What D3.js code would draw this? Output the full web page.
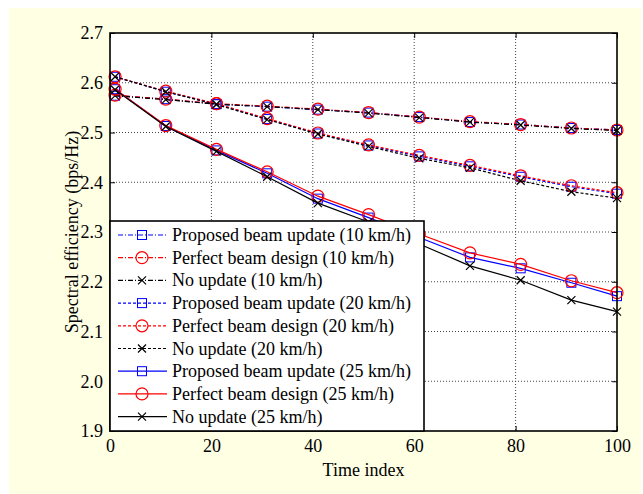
<!DOCTYPE html>
<html>
<head>
<meta charset="utf-8">
<script src="https://cdn.jsdelivr.net/npm/d3@7"></script>
<style>
  body { margin: 0; background: #fff; }
  text { font-family: "Liberation Serif", "Times New Roman", Times, "DejaVu Serif", serif; }
</style>
</head>
<body>
<div id="chart"></div>
<script>
// time index samples
var timeIdx = [1, 11, 21, 31, 41, 51, 61, 71, 81, 91, 100];

// 10 km/h
var prop10 = [2.574, 2.567, 2.557, 2.552, 2.546, 2.540, 2.531, 2.521, 2.516, 2.509, 2.505];
var perf10 = [2.575, 2.567, 2.558, 2.553, 2.547, 2.540, 2.531, 2.522, 2.516, 2.509, 2.505];
var noup10 = [2.574, 2.566, 2.557, 2.552, 2.546, 2.539, 2.530, 2.521, 2.515, 2.508, 2.504];
// 20 km/h
var prop20 = [2.612, 2.582, 2.557, 2.527, 2.498, 2.474, 2.452, 2.432, 2.411, 2.391, 2.377];
var perf20 = [2.612, 2.583, 2.558, 2.528, 2.499, 2.475, 2.454, 2.434, 2.413, 2.393, 2.379];
var noup20 = [2.612, 2.582, 2.556, 2.526, 2.497, 2.472, 2.448, 2.429, 2.403, 2.381, 2.368];
// 25 km/h
var prop25 = [2.587, 2.513, 2.464, 2.418, 2.367, 2.329, 2.289, 2.249, 2.227, 2.198, 2.171];
var perf25 = [2.587, 2.514, 2.466, 2.421, 2.372, 2.335, 2.296, 2.258, 2.235, 2.202, 2.178];
var noup25 = [2.586, 2.512, 2.462, 2.411, 2.358, 2.320, 2.276, 2.232, 2.203, 2.163, 2.140];

var xTicks = [0, 20, 40, 60, 80, 100];
var yTicks = [1.9, 2.0, 2.1, 2.2, 2.3, 2.4, 2.5, 2.6, 2.7];

var series = [
  {name: "Proposed beam update (10 km/h)", values: prop10, color: "#0000ff", dash: "5,2,1,2", marker: "square"},
  {name: "Perfect beam design (10 km/h)",  values: perf10, color: "#ff0000", dash: "5,2,1,2", marker: "circle"},
  {name: "No update (10 km/h)",            values: noup10, color: "#000000", dash: "5,2,1,2", marker: "x"},
  {name: "Proposed beam update (20 km/h)", values: prop20, color: "#0000ff", dash: "3,2", marker: "square"},
  {name: "Perfect beam design (20 km/h)",  values: perf20, color: "#ff0000", dash: "3,2", marker: "circle"},
  {name: "No update (20 km/h)",            values: noup20, color: "#000000", dash: "3,2", marker: "x"},
  {name: "Proposed beam update (25 km/h)", values: prop25, color: "#0000ff", dash: null, marker: "square"},
  {name: "Perfect beam design (25 km/h)",  values: perf25, color: "#ff0000", dash: null, marker: "circle"},
  {name: "No update (25 km/h)",            values: noup25, color: "#000000", dash: null, marker: "x"}
];

var FONT = "'Liberation Serif', 'Times New Roman', Times, 'DejaVu Serif', serif";

var W = 643, H = 494;
var margin = {top: 33, right: 26, bottom: 63, left: 110},
    width = W - margin.left - margin.right,
    height = H - margin.top - margin.bottom;

var svg = d3.select("#chart").append("svg")
    .attr("width", W)
    .attr("height", H);

// cream figure background
svg.append("rect")
    .attr("x", 9).attr("y", 8)
    .attr("width", 632).attr("height", 486)
    .attr("fill", "#ffffe4");

var g = svg.append("g")
    .attr("transform", "translate(" + margin.left + "," + margin.top + ")");

var x = d3.scaleLinear().domain([0, 100]).range([0, width]);
var y = d3.scaleLinear().domain([1.9, 2.7]).range([height, 0]);

g.append("rect")
    .attr("width", width).attr("height", height)
    .attr("fill", "#fff");

// dotted grid
g.append("g").selectAll("line")
    .data(xTicks.slice(1, -1))
    .enter().append("line")
    .attr("x1", function(d) { return x(d); }).attr("x2", function(d) { return x(d); })
    .attr("y1", 0).attr("y2", height)
    .attr("stroke", "#444").attr("stroke-width", 1).attr("stroke-dasharray", "1,2");

g.append("g").selectAll("line")
    .data(yTicks.slice(1, -1))
    .enter().append("line")
    .attr("y1", function(d) { return y(d); }).attr("y2", function(d) { return y(d); })
    .attr("x1", 0).attr("x2", width)
    .attr("stroke", "#444").attr("stroke-width", 1).attr("stroke-dasharray", "1,2");

// axes, ticks inward on all sides
var axes = [
  {ax: d3.axisBottom(x).tickValues(xTicks).tickFormat(d3.format("d")), tr: "translate(0," + height + ")", pad: 8},
  {ax: d3.axisTop(x).tickValues(xTicks).tickFormat(""), tr: "translate(0,0)", pad: 8},
  {ax: d3.axisLeft(y).tickValues(yTicks).tickFormat(d3.format(".1f")), tr: "translate(0,0)", pad: 7},
  {ax: d3.axisRight(y).tickValues(yTicks).tickFormat(""), tr: "translate(" + width + ",0)", pad: 7}
];
axes.forEach(function(a) {
  a.ax.tickSizeInner(-5).tickSizeOuter(0).tickPadding(a.pad);
  var ag = g.append("g")
      .attr("transform", a.tr)
      .call(a.ax)
      .attr("font-family", FONT)
      .attr("font-size", 18);
  ag.select(".domain").remove();
  ag.selectAll("line").attr("stroke", "#000").attr("stroke-width", 1);
  ag.selectAll("text").attr("fill", "#000");
});

var lineGen = d3.line()
    .x(function(d, i) { return x(timeIdx[i]); })
    .y(function(d) { return y(d); });

function drawMarker(sel, type, color, cx, cy) {
  if (type === "square") {
    sel.append("rect")
        .attr("x", cx - 4.5).attr("y", cy - 4.5)
        .attr("width", 9).attr("height", 9)
        .attr("fill", "none").attr("stroke", color).attr("stroke-width", 1);
  } else if (type === "circle") {
    sel.append("circle")
        .attr("cx", cx).attr("cy", cy).attr("r", 6)
        .attr("fill", "none").attr("stroke", color).attr("stroke-width", 1.2);
  } else {
    sel.append("path")
        .attr("d", "M" + (cx - 4) + "," + (cy - 4) + "L" + (cx + 4) + "," + (cy + 4) +
                   "M" + (cx - 4) + "," + (cy + 4) + "L" + (cx + 4) + "," + (cy - 4))
        .attr("fill", "none").attr("stroke", color).attr("stroke-width", 1.2);
  }
}

var plotG = g.append("g");
series.forEach(function(s) {
  plotG.append("path")
      .datum(s.values)
      .attr("d", lineGen)
      .attr("fill", "none")
      .attr("stroke", s.color)
      .attr("stroke-width", 1.2)
      .attr("stroke-dasharray", s.dash);
  var mg = plotG.append("g");
  s.values.forEach(function(v, i) {
    drawMarker(mg, s.marker, s.color, x(timeIdx[i]), y(v));
  });
});

// frame
g.append("rect")
    .attr("width", width).attr("height", height)
    .attr("fill", "none").attr("stroke", "#000").attr("stroke-width", 1.6);

// legend
var legY = 188, legW = 314, legH = height - 188, rowH = 22.7;
var leg = g.append("g").attr("transform", "translate(0," + legY + ")");
leg.append("rect")
    .attr("width", legW).attr("height", legH)
    .attr("fill", "#fff").attr("stroke", "#000").attr("stroke-width", 1.6);
series.forEach(function(s, i) {
  var cy = 14 + i * rowH;
  leg.append("line")
      .attr("x1", 8).attr("x2", 57)
      .attr("y1", cy).attr("y2", cy)
      .attr("stroke", s.color).attr("stroke-width", 1.2)
      .attr("stroke-dasharray", s.dash);
  drawMarker(leg, s.marker, s.color, 32, cy);
  leg.append("text")
      .attr("x", 62).attr("y", cy + 6)
      .attr("font-family", FONT)
      .attr("font-size", 18)
      .attr("fill", "#000")
      .text(s.name);
});

// axis titles
svg.append("text")
    .attr("x", margin.left + width / 2).attr("y", 476)
    .attr("text-anchor", "middle")
    .attr("font-family", FONT)
    .attr("font-size", 18)
    .text("Time index");

svg.append("text")
    .attr("transform", "translate(78," + (margin.top + height / 2) + ") rotate(-90)")
    .attr("text-anchor", "middle")
    .attr("font-family", FONT)
    .attr("font-size", 18)
    .text("Spectral efficiency (bps/Hz)");
</script>
</body>
</html>
